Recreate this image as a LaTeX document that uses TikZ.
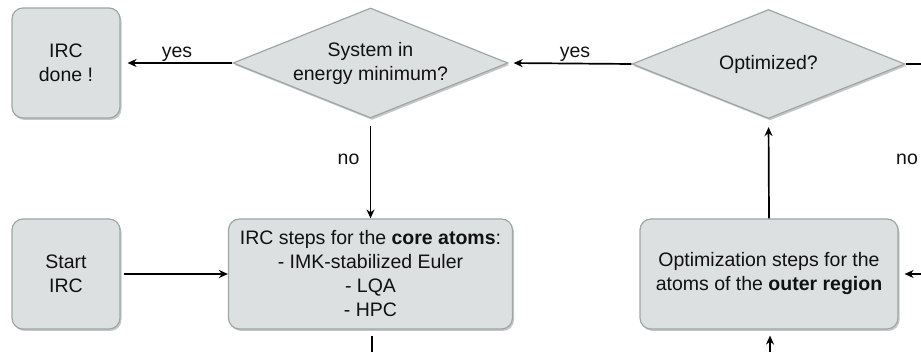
\documentclass[tikz,border=0pt]{standalone}
\usepackage{fontspec}
\setmainfont{Liberation Sans}
\usetikzlibrary{shapes.geometric,arrows.meta,shadows}
\definecolor{boxfill}{HTML}{DCE0E0}
\definecolor{boxdraw}{HTML}{9EA7A7}
\definecolor{txt}{HTML}{111111}
\begin{document}
\begin{tikzpicture}[x=1pt,y=-1pt,
  every node/.style={font=\fontsize{19.5}{24}\selectfont, text=txt},
  shadowed/.style={drop shadow={shadow xshift=1.5pt, shadow yshift=-2pt, opacity=0.22, fill=black}},
  box/.style={shadowed, draw=boxdraw, line width=1.2pt, fill=boxfill, rounded corners=11pt,
    align=center, inner sep=0pt},
  dia/.style={shadowed, shape=diamond, aspect=2.5, draw=boxdraw, line width=1.2pt, fill=boxfill,
    align=center, inner sep=0pt},
  arr/.style={line width=1.7pt, -{Stealth[length=9pt,width=8pt]}},
  plain/.style={line width=1.7pt},
  lbl/.style={inner sep=0pt, anchor=base}]
\useasboundingbox (0,0) rectangle (921,352);

\node[box, minimum width=108pt, minimum height=110pt] (done) at (66,63) {IRC\\done !};
\node[dia, minimum width=275pt, minimum height=110pt] (sys) at (370.5,63) {System in\\energy minimum?};
\node[dia, minimum width=273pt, minimum height=109pt] (opt) at (768.5,64) {Optimized?};
\node[box, minimum width=108pt, minimum height=110pt] (start) at (66,274) {Start\\IRC};
\node[box, minimum width=284pt, minimum height=110pt] (irc) at (370.5,274)
  {IRC steps for the \textbf{core atoms}:\\- IMK-stabilized Euler\\- LQA\\- HPC};
\node[box, minimum width=258pt, minimum height=110pt] (optbox) at (769,274)
  {Optimization steps for the\\atoms of the \textbf{outer region}};

\coordinate (rtop) at (921,64);
\coordinate (rin) at (921,274);
\coordinate (bout) at (372,352);
\coordinate (bin) at (770,352);

\draw[arr, shorten >=7pt] (sys.west) -- (done.east);
\draw[arr, shorten >=5pt] (opt.west) -- (sys.east);
\draw[arr, shorten <=7pt] (sys.south) -- (irc.north);
\draw[arr, shorten >=8pt] (optbox.north) -- (opt.south);
\draw[arr, shorten <=3pt] (start.east) -- (irc.west);
\draw[plain] (opt.east) -- (rtop);
\draw[arr, shorten >=6pt] (rin) -- (optbox.east);
\draw[plain, shorten <=6pt] (irc.south -| bout) -- (bout);
\draw[arr, shorten >=6pt] (bin) -- (optbox.south -| bin);

\node[lbl] (yes1) at (177,58) {yes};
\node[lbl] (yes2) at (575,58) {yes};
\node[lbl] (no1) at (348.5,165) {no};
\node[lbl] (no2) at (907,165) {no};
\end{tikzpicture}
\end{document}
